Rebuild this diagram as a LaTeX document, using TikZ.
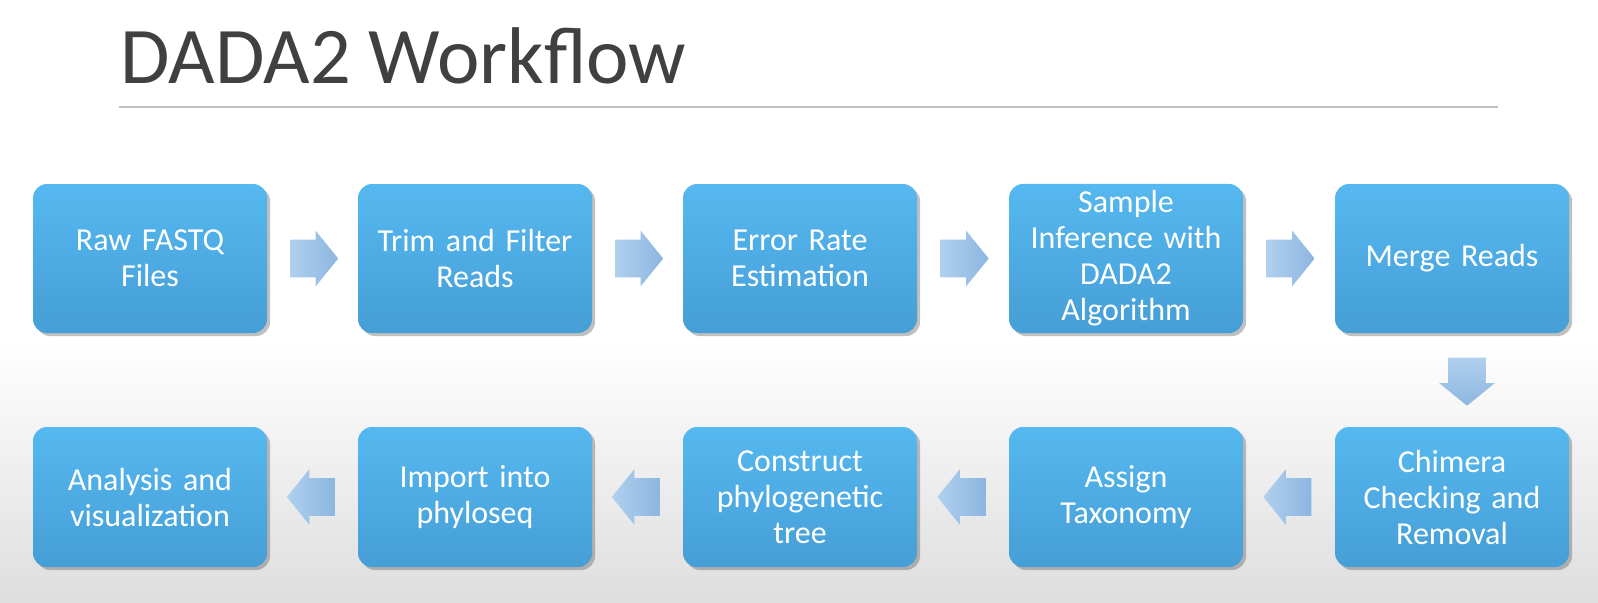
\documentclass[tikz,border=0pt]{standalone}
\usepackage{fontspec}
\setmainfont{Carlito}
\usetikzlibrary{shapes.arrows,shadows,calc}

\definecolor{boxtop}{RGB}{86,184,240}
\definecolor{boxbot}{RGB}{70,158,214}
\definecolor{arrtop}{RGB}{176,208,238}
\definecolor{arrbot}{RGB}{140,182,224}
\definecolor{titlegray}{RGB}{64,64,64}

\tikzset{
  stage/.style={rounded corners=7pt, minimum width=117pt, text width=110pt,
    align=center, text=white, font=\fontsize{16}{18}\selectfont,
    top color=boxtop, bottom color=boxbot,
    drop shadow={shadow xshift=1.5pt, shadow yshift=-1.5pt, opacity=0.35, fill=black!70}},
  toprow/.style={stage, minimum height=74.5pt},
  botrow/.style={stage, minimum height=70pt},
  flow/.style={single arrow, inner xsep=0pt, inner ysep=9.25pt,
    minimum height=24pt, single arrow head extend=4.5pt,
    single arrow tip angle=102, left color=arrtop, right color=arrbot},
  flowright/.style={flow, xshift=-3pt},
  flowleft/.style={flow, shape border rotate=180, xshift=3pt},
  flowdown/.style={flow, shape border rotate=270, inner xsep=9.25pt, inner ysep=0pt,
    top color=arrtop, bottom color=arrbot, yshift=3pt}
}

\begin{document}
\begin{tikzpicture}[x=0.5pt,y=-0.5pt]
\useasboundingbox (0,0) rectangle (1598,602);
\fill[white] (0,0) rectangle (1598,602);
\shade[top color=white, bottom color=black!13] (0,340) rectangle (1598,602);

\node[anchor=base west, text=titlegray, font=\fontsize{40.2}{48}\selectfont, inner sep=0pt] (title) at (120,83) {DADA2 Workflow};
\draw[black!25, line width=1pt] (119,107) coordinate (rulel) -- (1498,107) coordinate (ruler);

% first row
\node[toprow] (raw) at (150,258.5) {Raw FASTQ\\Files};
\node[toprow] (trim) at (475,258.5) {Trim and Filter\\Reads};
\node[toprow] (err) at (800,258.5) {Error Rate\\Estimation};
\node[toprow] (infer) at (1126,258.5) {Sample\\Inference with\\DADA2\\Algorithm};
\node[toprow] (merge) at (1452,258.5) {Merge Reads};

% second row
\node[botrow] (chim) at (1452,497) {Chimera\\Checking and\\Removal};
\node[botrow] (tax) at (1126,497) {Assign\\Taxonomy};
\node[botrow] (tree) at (800,497) {Construct\\phylogenetic\\tree};
\node[botrow] (imp) at (475,497) {Import into\\phyloseq};
\node[botrow] (anal) at (150,497) {Analysis and\\visualization};

% block arrows
\node[flowright] (a1) at ($(raw.east)!0.5!(trim.west)$) {};
\node[flowright] (a2) at ($(trim.east)!0.5!(err.west)$) {};
\node[flowright] (a3) at ($(err.east)!0.5!(infer.west)$) {};
\node[flowright] (a4) at ($(infer.east)!0.5!(merge.west)$) {};
\node[flowdown] (a5) at ($(merge.south)!0.5!(chim.north)+(15,0)$) {};
\node[flowleft] (a6) at ($(chim.west)!0.5!(tax.east)$) {};
\node[flowleft] (a7) at ($(tax.west)!0.5!(tree.east)$) {};
\node[flowleft] (a8) at ($(tree.west)!0.5!(imp.east)$) {};
\node[flowleft] (a9) at ($(imp.west)!0.5!(anal.east)$) {};
\end{tikzpicture}
\end{document}
